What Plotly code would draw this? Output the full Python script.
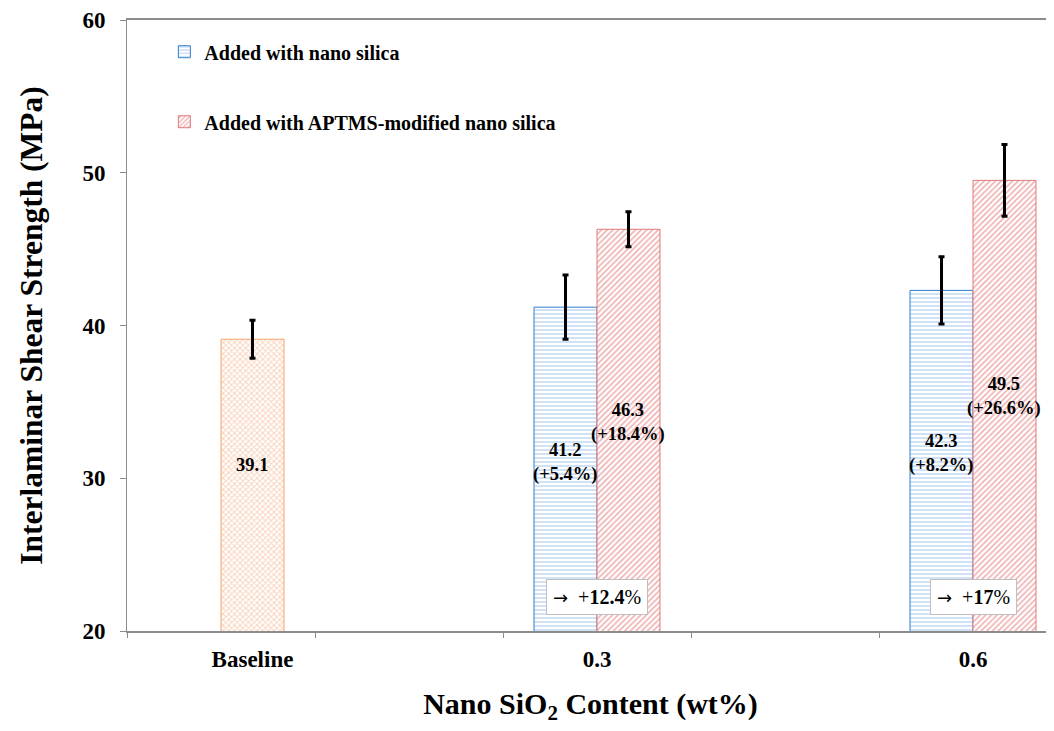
import plotly.graph_objects as go

# ---- data ----
categories = ["Baseline", "", "0.3", "", "0.6"]
baseline_value = [39.1]
baseline_err = [1.25]
nano_values = [41.2, 42.3]
nano_err = [2.1, 2.2]
aptms_values = [46.3, 49.5]
aptms_err = [1.15, 2.35]
nano_labels = ["41.2<br>(+5.4%)", "42.3<br>(+8.2%)"]
aptms_labels = ["46.3<br>(+18.4%)", "49.5<br>(+26.6%)"]
baseline_labels = ["39.1"]
gain_values = ["12.4", "17"]
y_ticks = [20, 30, 40, 50, 60]

FONT = "Liberation Serif, Times New Roman, serif"
idx = {c: i for i, c in enumerate(categories) if c}
x_base = [idx["Baseline"]]
x_groups = [idx["0.3"], idx["0.6"]]
W = 0.335

fig = go.Figure()

fig.add_trace(go.Bar(
    x=x_base, y=baseline_value, width=W, offset=0,
    marker=dict(color="white", line=dict(color="#F4A46B", width=1),
                pattern=dict(shape="x", fgcolor="#F4A87C", bgcolor="white", size=4, solidity=0.45)),
    error_y=dict(type="data", array=baseline_err, color="black", thickness=3, width=3),
    showlegend=False, name="Baseline"))

fig.add_trace(go.Bar(
    x=x_groups, y=nano_values, width=W, offset=-W,
    marker=dict(color="white", line=dict(color="#2E7FD0", width=1),
                pattern=dict(shape="-", fgcolor="#8FB7E6", bgcolor="white", size=4, solidity=0.4)),
    error_y=dict(type="data", array=nano_err, color="black", thickness=3, width=3),
    name="Added with nano silica", legendgroup="a"))

fig.add_trace(go.Bar(
    x=x_groups, y=aptms_values, width=W, offset=0,
    marker=dict(color="white", line=dict(color="#E07878", width=1),
                pattern=dict(shape="/", fgcolor="#DE6464", bgcolor="white", size=4, solidity=0.4)),
    error_y=dict(type="data", array=aptms_err, color="black", thickness=3, width=3),
    name="Added with APTMS-modified nano silica", legendgroup="b"))

# tick marks between categories (overlay axis)
fig.add_trace(go.Scatter(x=[-0.5], y=[20], xaxis="x2", mode="markers",
                         marker=dict(opacity=0), showlegend=False, hoverinfo="skip"))

lab_font = dict(family=FONT, size=18.5, color="black", weight="bold")
frac = 0.52
for xv, v, t in zip(x_base, baseline_value, baseline_labels):
    fig.add_annotation(x=xv + W / 2, y=20 + (v - 20) * 0.57, text=t, showarrow=False, font=lab_font)
for xv, v, t in zip(x_groups, nano_values, nano_labels):
    fig.add_annotation(x=xv - W / 2, y=20 + (v - 20) * frac, text=t, showarrow=False, font=lab_font)
for xv, v, t in zip(x_groups, aptms_values, aptms_labels):
    fig.add_annotation(x=xv + W / 2, y=20 + (v - 20) * frac, text=t, showarrow=False, font=lab_font)
for xv, g in zip(x_groups, gain_values):
    fig.add_annotation(x=xv, y=22.2,
                       text=f"<span style='font-family:DejaVu Sans;font-size:18px'>→</span>  +<b>{g}</b>%",
                       showarrow=False,
                       font=dict(family=FONT, size=20, color="black"),
                       bgcolor="white", bordercolor="#BFBFBF", borderwidth=1, borderpad=6)

xr = [-0.5, -0.5 + 927 / 188]
axis_font = dict(family=FONT, size=23, color="black", weight="bold")
fig.update_layout(
    width=1046, height=723,
    margin=dict(l=119, r=0, t=12, b=100),
    paper_bgcolor="white", plot_bgcolor="white",
    barmode="overlay",
    font=dict(family=FONT, color="black"),
    xaxis=dict(range=xr, tickvals=[x_base[0] + W / 2] + x_groups,
               ticktext=[categories[x_base[0]]] + [categories[i] for i in x_groups],
               ticks="", showline=True, linecolor="#8C8C8C", linewidth=2, mirror=True,
               showgrid=False, zeroline=False, tickfont=axis_font, ticklabelstandoff=6,
               automargin=False,
               title=dict(text="Nano SiO<sub>2</sub> Content (wt%)",
                          font=dict(family=FONT, size=30, color="black", weight="bold"), standoff=22)),
    xaxis2=dict(range=xr, overlaying="x", side="bottom", anchor="y",
                tickvals=[i - 0.5 for i in range(len(categories))], ticks="outside",
                ticklen=6, tickcolor="#8C8C8C", tickwidth=1, showticklabels=False,
                showline=False, showgrid=False, zeroline=False, automargin=False),
    yaxis=dict(range=[20, 60], tickvals=y_ticks, ticks="outside", ticklen=6, tickcolor="#8C8C8C",
               showline=True, linecolor="#8C8C8C", linewidth=1, showgrid=False, zeroline=False,
               tickfont=axis_font, ticklabelstandoff=10, automargin=False,
               title=dict(text="Interlaminar Shear Strength (MPa)",
                          font=dict(family=FONT, size=31.5, color="black", weight="bold"), standoff=30)),
    legend=dict(x=0.0403, y=0.980, xanchor="left", yanchor="top", tracegroupgap=41,
                font=dict(family=FONT, size=20, color="black", weight="bold"),
                bgcolor="rgba(0,0,0,0)", itemwidth=30),
)

fig.write_html("out.html")
